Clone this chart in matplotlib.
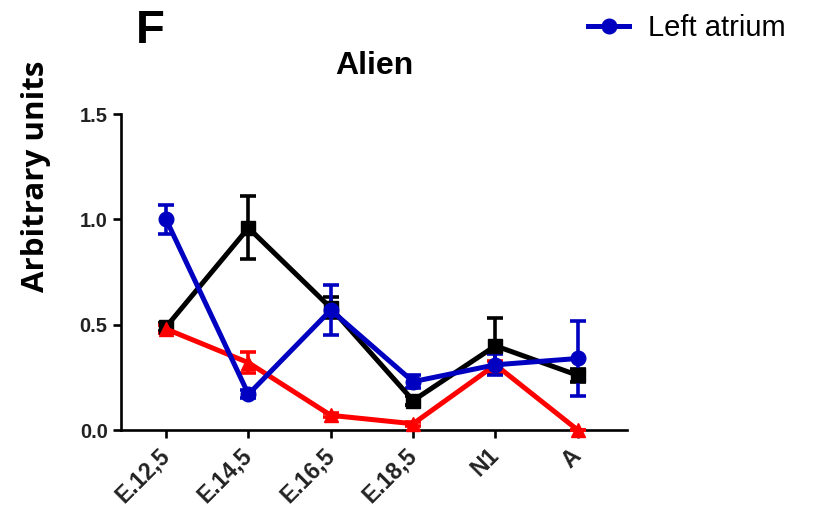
#!/usr/bin/env python3

import matplotlib
matplotlib.use("Agg")
from matplotlib import pyplot
from matplotlib.lines import Line2D


STAGES = ["E.12,5", "E.14,5", "E.16,5", "E.18,5", "N1", "A"]

# black squares
BLACK_MEAN = [0.49, 0.96, 0.58, 0.14, 0.40, 0.26]
BLACK_ERR = [0.02, 0.15, 0.05, 0.02, 0.13, 0.03]

# red triangles
RED_MEAN = [0.48, 0.32, 0.07, 0.03, 0.31, 0.00]
RED_ERR = [0.02, 0.05, 0.01, 0.01, 0.02, 0.00]

# blue circles (left atrium)
BLUE_MEAN = [1.00, 0.17, 0.57, 0.23, 0.31, 0.34]
BLUE_ERR = [0.07, 0.02, 0.12, 0.03, 0.05, 0.18]

TICK_FONT = "Liberation Sans"


def plot():
    figure = pyplot.figure(figsize=(8.22, 5.12), dpi=100)
    axes = figure.add_axes([0.147, 0.16, 0.616, 0.617])

    x = list(range(len(STAGES)))
    series = (
        (BLACK_MEAN, BLACK_ERR, "black", "s"),
        (RED_MEAN, RED_ERR, "#ff0000", "^"),
        (BLUE_MEAN, BLUE_ERR, "#0000c0", "o"),
    )
    for mean, err, colour, marker in series:
        axes.errorbar(x, mean, yerr=err, color=colour, marker=marker,
                      markersize=10.5, linewidth=3.6, elinewidth=2.6,
                      capsize=5.5, capthick=2.6, clip_on=False, zorder=3)

    axes.set_xlim(-0.55, 5.6)
    axes.set_ylim(0, 1.5)
    axes.set_yticks([0.0, 0.5, 1.0, 1.5])
    axes.set_yticklabels(["0.0", "0.5", "1.0", "1.5"])
    axes.set_xticks(x)
    axes.set_xticklabels(STAGES, rotation=45, ha="right", va="center",
                         rotation_mode="anchor")

    for label in axes.get_xticklabels():
        label.set_fontsize(16.5)
    for label in axes.get_yticklabels():
        label.set_fontsize(14.5)
    for label in axes.get_xticklabels() + axes.get_yticklabels():
        label.set_fontfamily(TICK_FONT)
        label.set_fontweight("bold")
        label.set_color("#222222")

    axes.spines["right"].set_visible(False)
    axes.spines["top"].set_visible(False)
    axes.spines["left"].set_linewidth(1.9)
    axes.spines["bottom"].set_linewidth(1.9)
    axes.tick_params(width=1.9, length=6)
    axes.tick_params(axis="x", pad=10)

    # y label sits high, not centred on the axis
    figure.text(36 / 822, 1 - 176 / 512, "Arbitrary units", rotation=90,
                fontsize=22.5, fontweight="bold", family="Open Sans",
                ha="center", va="center")
    figure.text(374 / 822, 1 - 66 / 512, "Alien", fontsize=23,
                fontweight="bold", family=TICK_FONT,
                ha="center", va="center")

    figure.text(150 / 822, 1 - 31 / 512, "F", fontsize=34, fontweight="bold",
                family=TICK_FONT, ha="center", va="center")

    handle = Line2D([], [], color="#0000c0", marker="o", markersize=10.5,
                    linewidth=3.6)
    figure.legend([handle], ["Left atrium"], loc="upper right",
                  bbox_to_anchor=(0.988, 1.024), frameon=False,
                  prop={"family": TICK_FONT, "size": 21},
                  handlelength=1.4, handletextpad=0.65)

    pyplot.savefig("out.png", dpi=100)


if __name__ == "__main__":
    plot()
